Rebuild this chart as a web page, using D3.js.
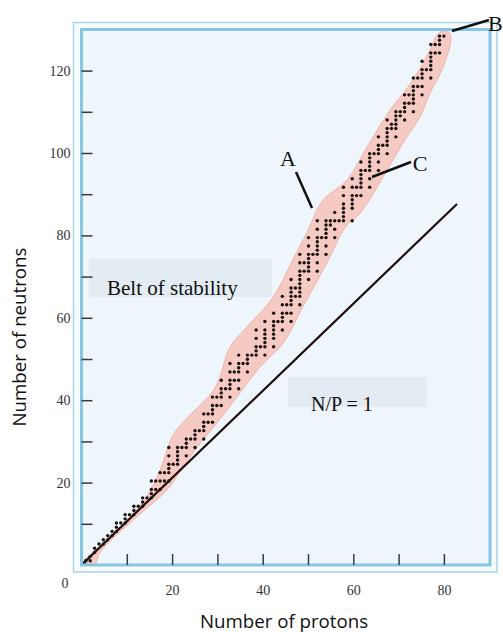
<!DOCTYPE html>
<html>
<head>
<meta charset="utf-8">
<script src="https://cdn.jsdelivr.net/npm/d3@7"></script>
<style>
  body { margin: 0; background: #fff; }
  svg { display: block; }
</style>
</head>
<body>
<svg id="chart" width="503" height="632"></svg>
<script>
// stable nuclides: proton number and neutron numbers of its stable isotopes
const protons = [
  1, 2, 3, 4, 5, 6, 7, 8, 9, 10, 11, 12, 13, 14, 15, 16, 17, 18, 19, 20,
  21, 22, 23, 24, 25, 26, 27, 28, 29, 30, 31, 32, 33, 34, 35, 36, 37, 38, 39, 40,
  41, 42, 44, 45, 46, 47, 48, 49, 50, 51, 52, 53, 54, 55, 56, 57, 58, 59, 60,
  62, 63, 64, 65, 66, 67, 68, 69, 70, 71, 72, 73, 74, 75, 76, 77, 78, 79, 80,
  81, 82, 83
];
const neutrons = [
  [0, 1], [1, 2], [3, 4], [5], [5, 6], [6, 7], [7, 8], [8, 9, 10], [10], [10, 11, 12],
  [12], [12, 13, 14], [14], [14, 15, 16], [16], [16, 17, 18, 20], [18, 20], [18, 20, 22],
  [20, 22], [20, 22, 23, 24, 26, 28],
  [24], [24, 25, 26, 27, 28], [28], [26, 28, 29, 30], [30], [28, 30, 31, 32], [32],
  [30, 32, 33, 34, 36], [34, 36], [34, 36, 37, 38, 40], [38, 40], [38, 40, 41, 42, 44],
  [42], [40, 42, 43, 44, 46, 48], [44, 46], [42, 44, 46, 47, 48, 50], [48],
  [46, 48, 49, 50], [50], [50, 51, 52, 54, 56],
  [52], [50, 52, 53, 54, 55, 56, 58], [52, 54, 55, 56, 57, 58, 60], [58],
  [56, 58, 59, 60, 62, 64], [60, 62], [58, 60, 62, 63, 64, 65, 66, 68], [64, 66],
  [62, 64, 65, 66, 67, 68, 69, 70, 72, 74], [70, 72], [68, 70, 71, 72, 73, 74, 76, 78],
  [74], [70, 72, 74, 75, 76, 77, 78, 80, 82], [78], [74, 76, 78, 79, 80, 81, 82],
  [81, 82], [78, 80, 82, 84], [82], [82, 83, 84, 85, 86, 88, 90],
  [82, 85, 86, 87, 88, 90, 92], [88, 90], [88, 90, 91, 92, 93, 94, 96], [94],
  [90, 92, 94, 95, 96, 97, 98], [98], [94, 96, 98, 99, 100, 102], [100],
  [98, 100, 101, 102, 103, 104, 106], [104, 105], [102, 104, 105, 106, 107, 108],
  [107, 108], [106, 108, 109, 110, 112], [110, 112], [108, 110, 111, 112, 113, 114, 116],
  [114, 116], [112, 114, 116, 117, 118, 120], [118], [116, 118, 119, 120, 121, 122, 124],
  [122, 124], [122, 124, 125, 126], [126]
];

// outline of the shaded belt (protons, neutrons)
const beltUpper = [
  [-0.5, -1], [0.3, 0.7], [6.5, 6.7], [14.1, 15.0], [18.0, 22.6], [21.0, 31.0],
  [24.2, 35.0], [30.6, 42.2], [34.0, 51.9], [37.9, 56.7], [43.9, 63.8], [48.4, 72.7],
  [51.6, 79.1], [55.3, 86.9], [60.8, 91.7], [65.4, 99.6], [70.7, 108.4], [75.9, 115.5],
  [79.8, 122.7], [81.4, 126.2], [82.8, 127.3], [84.2, 126.8]
];
const beltLower = [
  [84.6, 125.1], [82.8, 118.6], [79.8, 112.4], [77.5, 106.7], [73.6, 100.5],
  [70.0, 94.1], [63.8, 83.8], [60.4, 80.5], [56.9, 73.4], [50.7, 61.5], [46.2, 52.9],
  [40.9, 47.2], [36.3, 41.0], [31.0, 33.8], [26.5, 28.1], [23.2, 23.3], [19.6, 17.9],
  [11.8, 10.7], [4.2, 2.9], [2.6, -1]
];

// N/P = 1 reference line, from and to this many protons
const ratioLine = [0, 86];

const xTicks = [10, 20, 30, 40, 50, 60, 70, 80];
const yTicks = [10, 20, 30, 40, 50, 60, 70, 80, 90, 100, 110, 120];

const svg = d3.select('#chart');

const plotLeft = 81.5, plotRight = 490, plotTop = 29.5, plotBottom = 565;

// scales the dots were plotted on
const x = d3.scaleLinear().domain([0, 86]).range([plotLeft, 457]);
const y = d3.scaleLinear().domain([0, 86]).range([plotBottom, 204]);

// scales of the printed ticks
const xt = d3.scaleLinear().domain([0, 90]).range([plotLeft, plotLeft + 90 * 4.53]);
const yt = d3.scaleLinear().domain([0, 130]).range([plotBottom, plotBottom - 130 * 4.12]);

// frame
svg.append('rect')
    .attr('x', 73.5).attr('y', 22.5)
    .attr('width', 423.5).attr('height', 549.5)
    .attr('fill', '#f6fbfe')
    .attr('stroke', '#a9d5eb')
    .attr('stroke-width', 1.5);

svg.append('rect')
    .attr('x', plotLeft).attr('y', plotTop)
    .attr('width', plotRight - plotLeft).attr('height', plotBottom - plotTop)
    .attr('fill', '#eef6fc');

svg.append('clipPath').attr('id', 'plot')
    .append('rect')
    .attr('x', plotLeft).attr('y', plotTop)
    .attr('width', plotRight - plotLeft).attr('height', plotBottom - plotTop);

// text boxes
svg.append('rect')
    .attr('x', 89).attr('y', 259)
    .attr('width', 183).attr('height', 38)
    .attr('fill', '#e4ecf3');

svg.append('rect')
    .attr('x', 288).attr('y', 377)
    .attr('width', 139).attr('height', 30)
    .attr('fill', '#e4ecf3');

const g = svg.append('g').attr('clip-path', 'url(#plot)');

// belt
let belt = d3.line()
    .x(function(d) { return x(d[0]); })
    .y(function(d) { return y(d[1]); })
    .curve(d3.curveCatmullRomClosed.alpha(0.5));

g.append('path')
    .attr('d', belt(beltUpper.concat(beltLower)))
    .attr('fill', '#f5cac2')
    .attr('stroke', '#efb2a9')
    .attr('stroke-width', 1);

// N/P = 1 line
g.append('line')
    .attr('x1', x(ratioLine[0])).attr('y1', y(ratioLine[0]))
    .attr('x2', x(ratioLine[1])).attr('y2', y(ratioLine[1]))
    .attr('stroke', '#1c0c0c')
    .attr('stroke-width', 2.2);

// nuclides
let points = [];
protons.forEach(function(z, i) {
    neutrons[i].forEach(function(n) {
        points.push([z, n]);
    });
});

g.selectAll('.nuclide')
    .data(points)
    .enter().append('circle')
    .attr('class', 'nuclide')
    .attr('cx', function(d) { return x(d[0]); })
    .attr('cy', function(d) { return y(d[1]); })
    .attr('r', 1.7)
    .attr('fill', '#1a1212');

// inner frame line
svg.append('rect')
    .attr('x', plotLeft).attr('y', plotTop)
    .attr('width', plotRight - plotLeft).attr('height', plotBottom - plotTop)
    .attr('fill', 'none')
    .attr('stroke', '#86c6e2')
    .attr('stroke-width', 3);

// axes
let yAxis = svg.append('g')
    .attr('transform', 'translate(' + plotLeft + ',0)')
    .call(d3.axisLeft(yt)
        .tickValues(yTicks)
        .tickSizeInner(-11)
        .tickSizeOuter(0)
        .tickPadding(11)
        .tickFormat(function(d) { return d % 20 ? '' : d; }));

let xAxis = svg.append('g')
    .attr('transform', 'translate(0,' + plotBottom + ')')
    .call(d3.axisBottom(xt)
        .tickValues(xTicks)
        .tickSizeInner(-11)
        .tickSizeOuter(0)
        .tickPadding(20)
        .tickFormat(function(d) { return d % 20 ? '' : d; }));

[xAxis, yAxis].forEach(function(a) {
    a.select('.domain').remove();
    a.selectAll('.tick line')
        .attr('stroke', '#3a3a3a')
        .attr('stroke-width', 1.5);
    a.selectAll('.tick text')
        .attr('fill', '#333')
        .style('font-family', '"Liberation Serif", serif')
        .style('font-size', '14px');
});

svg.append('text')
    .attr('x', 65).attr('y', 588)
    .attr('text-anchor', 'middle')
    .attr('fill', '#333')
    .style('font-family', '"Liberation Serif", serif')
    .style('font-size', '14px')
    .text('0');

// axis titles
svg.append('text')
    .attr('x', 284).attr('y', 628)
    .attr('text-anchor', 'middle')
    .attr('fill', '#111')
    .style('font-family', '"Open Sans", sans-serif')
    .style('font-size', '18.7px')
    .text('Number of protons');

svg.append('text')
    .attr('transform', 'translate(26,337) rotate(-90)')
    .attr('text-anchor', 'middle')
    .attr('fill', '#111')
    .style('font-family', '"Open Sans", sans-serif')
    .style('font-size', '18.7px')
    .text('Number of neutrons');

// annotations
let serif = function(sel) {
    return sel.attr('fill', '#111')
        .style('font-family', '"Liberation Serif", serif');
};

serif(svg.append('text'))
    .attr('x', 107).attr('y', 295)
    .style('font-size', '21px')
    .text('Belt of stability');

serif(svg.append('text'))
    .attr('x', 311).attr('y', 411)
    .style('font-size', '20px')
    .text('N/P = 1');

serif(svg.append('text'))
    .attr('x', 288).attr('y', 166)
    .attr('text-anchor', 'middle')
    .style('font-size', '22px')
    .text('A');

serif(svg.append('text'))
    .attr('x', 420).attr('y', 171)
    .attr('text-anchor', 'middle')
    .style('font-size', '22px')
    .text('C');

serif(svg.append('text'))
    .attr('x', 488).attr('y', 31)
    .style('font-size', '22px')
    .text('B');

const pointers = [
    [[296, 172], [312, 208]],
    [[411, 162], [372, 177]],
    [[452, 31], [489, 20]]
];
svg.selectAll('.pointer')
    .data(pointers)
    .enter().append('line')
    .attr('class', 'pointer')
    .attr('x1', function(d) { return d[0][0]; })
    .attr('y1', function(d) { return d[0][1]; })
    .attr('x2', function(d) { return d[1][0]; })
    .attr('y2', function(d) { return d[1][1]; })
    .attr('stroke', '#111')
    .attr('stroke-width', 2.5);
</script>
</body>
</html>
